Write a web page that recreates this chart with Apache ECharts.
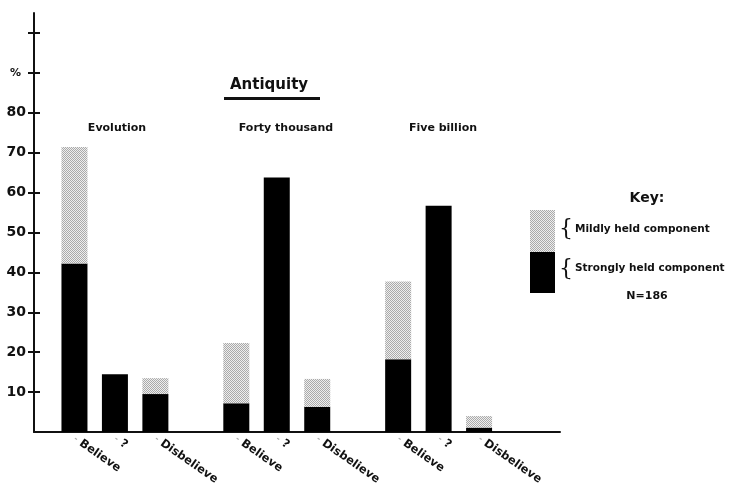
<!DOCTYPE html>
<html>
<head>
<meta charset="utf-8">
<script src="https://cdn.jsdelivr.net/npm/echarts@6/dist/echarts.min.js"></script>
<style>
  html, body { margin: 0; padding: 0; background: #fff; }
  #chart { width: 733px; height: 488px; }
</style>
</head>
<body>
<div id="chart"></div>
<script>
// categories along the x axis (empty slots separate the three groups)
const categories = ['', 'Believe', '?', 'Disbelieve', '', 'Believe', '?', 'Disbelieve', '', 'Believe', '?', 'Disbelieve', '', ''];
// strongly held component (black)
const strongly = [null, 42.2, 14.5, 9.5, null, 7.2, 63.8, 6.3, null, 18.2, 56.7, 1.1, null, null];
// mildly held component (stippled), stacked on top
const mildly = [null, 29.2, 0, 4, null, 15.1, 0, 7, null, 19.5, 0, 2.9, null, null];
const groups = ['Evolution', 'Forty thousand', 'Five billion'];
const yTicks = [10, 20, 30, 40, 50, 60, 70, 80, 90, 100];
const yLabels = [10, 20, 30, 40, 50, 60, 70, 80, 90];

const FONT = 'DejaVu Sans';

// stipple pattern for the mildly held part
const pat = document.createElement('canvas');
pat.width = 2; pat.height = 2;
const pctx = pat.getContext('2d');
pctx.fillStyle = '#eeeeee';
pctx.fillRect(0, 0, 2, 2);
pctx.fillStyle = '#aaaaaa';
pctx.fillRect(0, 0, 1, 1);
pctx.fillRect(1, 1, 1, 1);
const stipple = { image: pat, repeat: 'repeat' };

const chart = echarts.init(document.getElementById('chart'));

const yCommon = {
  type: 'value',
  min: 0,
  max: 105,
  interval: 10,
  splitLine: { show: false }
};

const groupText = (name, x) => ({
  type: 'text', x: x, y: 128,
  style: { text: name, align: 'center', verticalAlign: 'middle', fontFamily: FONT, fontWeight: 'bold', fontSize: 11, fill: '#111' }
});

chart.setOption({
  animation: false,
  backgroundColor: '#fff',
  grid: { left: 34, right: 173, top: 13, bottom: 56 },
  xAxis: {
    type: 'category',
    data: categories,
    boundaryGap: false,
    axisLine: { lineStyle: { color: '#111', width: 2 } },
    axisTick: { show: false },
    axisLabel: {
      interval: 0,
      rotate: -35,
      margin: 6,
      color: '#111',
      fontFamily: FONT,
      fontWeight: 'bold',
      fontSize: 11.5,
      formatter: v => v ? '{d|-} ' + v : '',
      rich: { d: { color: '#aaa', fontSize: 8, fontFamily: FONT } }
    }
  },
  yAxis: [
    Object.assign({}, yCommon, {
      axisLine: { show: true, lineStyle: { color: '#111', width: 2 } },
      axisTick: { show: true, length: 6, customValues: yTicks, lineStyle: { color: '#111', width: 2 } },
      axisLabel: {
        customValues: yLabels,
        margin: 8,
        color: '#111',
        fontFamily: FONT,
        fontWeight: 'bold',
        fontSize: 14,
        formatter: v => v === 90 ? '{p|%}' : String(v),
        rich: { p: { fontSize: 11, fontFamily: FONT, fontWeight: 'bold', color: '#111', padding: [0, 5, 0, 0] } }
      }
    }),
    // same axis again, only for the inner half of the ticks
    Object.assign({}, yCommon, {
      position: 'left',
      axisLine: { show: false },
      axisTick: { show: true, inside: true, length: 6, customValues: yTicks, lineStyle: { color: '#111', width: 2 } },
      axisLabel: { show: false }
    })
  ],
  series: [
    {
      name: 'Strongly held component',
      type: 'bar',
      stack: 'a',
      data: strongly,
      barWidth: 26,
      itemStyle: { color: '#000' }
    },
    {
      name: 'Mildly held component',
      type: 'bar',
      stack: 'a',
      data: mildly,
      barWidth: 26,
      itemStyle: { color: stipple }
    }
  ],
  graphic: [
    // title
    { type: 'text', left: 230, top: 78, style: { text: 'Antiquity', fontFamily: FONT, fontWeight: 'bold', fontSize: 15, fill: '#111' } },
    { type: 'rect', shape: { x: 224, y: 97, width: 96, height: 3 }, style: { fill: '#111' } },
    // group names
    groupText(groups[0], 117),
    groupText(groups[1], 286),
    groupText(groups[2], 443),
    // key
    { type: 'text', x: 647, y: 198, style: { text: 'Key:', align: 'center', verticalAlign: 'middle', fontFamily: FONT, fontWeight: 'bold', fontSize: 14, fill: '#111' } },
    { type: 'rect', shape: { x: 530, y: 210, width: 25, height: 42 }, style: { fill: stipple } },
    { type: 'rect', shape: { x: 530, y: 252, width: 25, height: 41 }, style: { fill: '#000' } },
    { type: 'text', x: 566, y: 229, style: { text: '{', align: 'center', verticalAlign: 'middle', fontFamily: 'DejaVu Serif', fontSize: 22, fill: '#111' } },
    { type: 'text', x: 566, y: 269, style: { text: '{', align: 'center', verticalAlign: 'middle', fontFamily: 'DejaVu Serif', fontSize: 22, fill: '#111' } },
    { type: 'text', x: 575, y: 229, style: { text: 'Mildly held component', verticalAlign: 'middle', fontFamily: FONT, fontWeight: 'bold', fontSize: 10.5, fill: '#111' } },
    { type: 'text', x: 575, y: 268, style: { text: 'Strongly held component', verticalAlign: 'middle', fontFamily: FONT, fontWeight: 'bold', fontSize: 10.5, fill: '#111' } },
    { type: 'text', x: 647, y: 296, style: { text: 'N=186', align: 'center', verticalAlign: 'middle', fontFamily: FONT, fontWeight: 'bold', fontSize: 11, fill: '#111' } }
  ]
});
</script>
</body>
</html>
